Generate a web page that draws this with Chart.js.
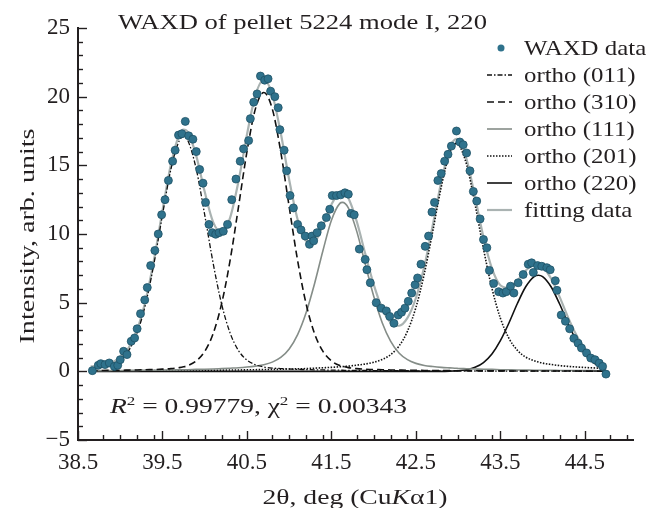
<!DOCTYPE html>
<html>
<head>
<meta charset="utf-8">
<script src="https://cdn.jsdelivr.net/npm/chart.js@4.4.1/dist/chart.umd.min.js"></script>
<style>
    html, body { margin: 0; padding: 0; background: #fff; }
    #wrap { width: 666px; height: 508px; }
</style>
</head>
<body>
<div id="wrap"><canvas id="chart" width="666" height="508"></canvas></div>
<script>
// Measured WAXD points (2theta, intensity)
const xData = [38.67,38.74,38.77,38.82,38.87,38.93,38.97,39.00,39.04,39.08,39.13,39.17,39.20,39.24,39.29,39.32,39.36,39.41,39.45,39.49,
    39.53,39.57,39.62,39.65,39.69,39.73,39.77,39.81,39.86,39.90,39.94,39.98,40.01,40.05,40.09,40.13,40.17,40.22,40.27,40.32,
    40.37,40.42,40.46,40.52,40.54,40.58,40.62,40.66,40.71,40.75,40.78,40.83,40.87,40.89,40.94,40.97,41.01,41.05,41.10,41.14,
    41.19,41.24,41.27,41.29,41.33,41.38,41.44,41.48,41.51,41.56,41.61,41.66,41.70,41.73,41.77,41.83,41.90,41.92,41.96,42.03,
    42.09,42.15,42.19,42.24,42.29,42.33,42.37,42.41,42.45,42.49,42.52,42.56,42.61,42.65,42.69,42.72,42.76,42.80,42.84,42.88,
    42.92,42.98,43.02,43.06,43.10,43.14,43.18,43.22,43.26,43.30,43.34,43.37,43.42,43.48,43.53,43.57,43.62,43.66,43.71,43.77,
    43.83,43.87,43.89,43.94,43.99,44.05,44.09,44.15,44.17,44.22,44.27,44.32,44.37,44.42,44.46,44.52,44.57,44.62,44.67,44.71,44.75];
const yData = [0.05,0.44,0.56,0.49,0.61,0.36,0.44,0.85,1.46,1.22,2.19,2.43,3.10,4.20,5.20,6.10,7.70,8.80,10.0,11.4,
    12.5,13.9,15.3,16.1,17.2,17.3,18.2,17.15,16.9,16.0,14.7,13.7,12.3,10.7,10.1,9.98,10.1,10.2,10.7,12.5,
    14.0,15.3,16.2,16.8,18.4,19.6,20.2,21.5,21.2,21.3,20.4,20.0,19.2,17.6,16.1,14.6,12.8,11.9,10.7,10.3,
    9.85,9.25,9.85,9.5,10.1,10.6,11.2,11.8,12.8,12.8,12.85,13.0,12.9,11.5,11.4,8.9,8.15,7.4,6.45,5.0,
    4.6,4.4,4.0,3.5,4.1,4.3,4.6,5.1,5.7,6.3,6.8,7.8,9.1,9.85,11.6,12.3,13.9,14.4,15.3,15.8,
    16.4,17.5,16.7,16.5,15.9,14.6,13.1,12.4,11.1,9.6,9.0,7.35,6.4,5.8,5.7,5.8,6.2,5.7,6.45,7.05,
    7.8,7.9,7.2,7.7,7.65,7.55,7.4,6.6,5.9,4.1,3.65,3.1,2.4,2.05,1.7,1.34,0.97,0.85,0.6,0.36,-0.2];

// Fitted peak components, sampled on one grid
const xFit = [38.65,38.7,38.8,38.9,39.0,39.1,39.2,39.3,39.4,39.5,39.6,39.7,39.75,39.8,39.9,40.0,40.1,40.2,40.3,40.4,
    40.5,40.6,40.7,40.8,40.9,41.0,41.1,41.2,41.3,41.4,41.5,41.6,41.63,41.7,41.8,41.9,42.0,42.1,42.2,42.3,
    42.4,42.5,42.6,42.7,42.8,42.9,42.98,43.0,43.1,43.2,43.3,43.4,43.5,43.6,43.7,43.8,43.9,43.95,44.0,44.1,
    44.2,44.3,44.4,44.5,44.6,44.7,44.75];
const y011 = [0.22,0.24,0.32,0.48,0.82,1.51,2.80,4.90,7.87,11.39,14.72,16.81,17.10,16.81,14.72,11.39,7.87,4.90,2.80,1.51,
    0.82,0.48,0.32,0.24,0.20,0.17,0.14,0.13,0.11,0.10,0.09,0.08,0.078,0.07,0.065,0.062,0.055,0.052,0.048,0.045,
    0.041,0.037,0.035,0.033,0.03,0.028,0.027,0.027,0.025,0.024,0.022,0.021,0.019,0.018,0.017,0.016,0.015,0.015,0.015,0.014,
    0.013,0.013,0.012,0.012,0.011,0.011,0.011];
const y310 = [0.056,0.059,0.065,0.072,0.08,0.09,0.10,0.12,0.13,0.16,0.20,0.27,0.33,0.42,0.76,1.45,2.75,4.92,8.06,11.98,
    15.99,19.11,20.30,19.11,15.99,11.98,8.06,4.92,2.75,1.45,0.76,0.42,0.38,0.27,0.20,0.16,0.13,0.12,0.10,0.09,
    0.08,0.072,0.065,0.059,0.054,0.049,0.046,0.045,0.042,0.038,0.036,0.033,0.031,0.029,0.027,0.026,0.025,0.024,0.023,0.022,
    0.021,0.02,0.019,0.018,0.017,0.016,0.015];
const y111 = [0.048,0.05,0.053,0.057,0.06,0.065,0.07,0.077,0.084,0.092,0.10,0.11,0.115,0.12,0.14,0.15,0.17,0.20,0.23,0.26,
    0.31,0.38,0.48,0.67,1.01,1.63,2.67,4.26,6.38,8.80,11.00,12.23,12.30,11.90,10.19,7.82,5.48,3.56,2.20,1.34,
    0.85,0.58,0.43,0.35,0.29,0.25,0.22,0.21,0.19,0.17,0.15,0.14,0.12,0.11,0.10,0.09,0.08,0.078,0.075,0.07,
    0.065,0.06,0.055,0.051,0.048,0.045,0.043];
const y201 = [0.035,0.036,0.038,0.04,0.042,0.044,0.047,0.05,0.053,0.055,0.058,0.062,0.064,0.066,0.07,0.075,0.08,0.087,0.094,0.10,
    0.11,0.12,0.13,0.14,0.15,0.17,0.18,0.20,0.23,0.26,0.29,0.33,0.34,0.38,0.45,0.53,0.66,0.86,1.21,1.84,
    2.92,4.65,7.12,10.21,13.42,15.89,16.60,16.55,15.06,12.17,8.92,6.05,3.87,2.42,1.54,1.04,0.77,0.68,0.60,0.50,
    0.42,0.36,0.32,0.28,0.25,0.22,0.21];
const y220 = [0,0,0,0,0,0,0,0,0,0,0,0,0,0,0,0,0,0,0,0,
    0,0,0,0,0,0,0,0,0,0,0,0,0,0,0,0,0,0,0,0,
    0,0,0,0,0,0.013,0.035,0.04,0.12,0.29,0.64,1.26,2.23,3.50,4.92,6.16,6.90,7.00,6.90,6.16,
    4.92,3.50,2.23,1.26,0.64,0.29,0.19];
const yFit = [0.36,0.39,0.48,0.65,1.00,1.71,3.02,5.15,8.14,11.70,15.08,17.25,17.61,17.42,15.69,13.07,10.87,10.11,11.18,13.85,
    17.23,20.09,21.23,20.16,17.35,13.95,11.05,9.51,9.47,10.61,12.14,13.06,13.10,12.62,10.91,8.57,6.33,4.59,3.56,3.32,
    3.89,5.34,7.65,10.65,13.79,16.23,16.93,16.87,15.44,12.69,9.77,7.50,6.27,6.08,6.60,7.33,7.79,7.80,7.61,6.77,
    5.44,3.95,2.64,1.62,0.97,0.58,0.47];

const seriesNames = ['WAXD data', 'ortho (011)', 'ortho (310)', 'ortho (111)', 'ortho (201)', 'ortho (220)', 'fitting data'];
const xTickVals = [38.5, 39.5, 40.5, 41.5, 42.5, 43.5, 44.5];
const yTickVals = [-5, 0, 5, 10, 15, 20, 25];
const xMinorVals = [38.8,39.0,39.2,39.4,39.8,40.0,40.2,40.4,40.8,41.0,41.2,41.4,41.8,42.0,42.2,42.4,42.8,43.0,43.2,43.4,43.8,44.0,44.2,44.4,44.8,45.0];

const SERIF = '"Liberation Serif", "Times New Roman", serif';
const INK = '#231f20';

const pts = (xs, ys) => xs.map((x, i) => ({ x, y: ys[i] }));

const curve = (label, ys, color, width, dash) => ({
    label,
    data: pts(xFit, ys),
    showLine: true,
    borderColor: color,
    borderWidth: width,
    borderDash: dash,
    pointRadius: 0,
    cubicInterpolationMode: 'monotone',
    fill: false
});

// draws a run of text pieces (italic / superscript), stretched horizontally
function drawRun(ctx, parts, x, y, size, opt) {
    const fontOf = p => `${p.italic ? 'italic ' : ''}${p.sup ? Math.round(size * 0.62) : size}px ${SERIF}`;
    let natural = 0;
    parts.forEach(p => { ctx.font = fontOf(p); natural += ctx.measureText(p.t).width; });
    const sx = opt.width ? opt.width / natural : (opt.sx || 1);
    let cx = opt.align === 'center' ? x - natural * sx / 2 : x;
    parts.forEach(p => {
        ctx.font = fontOf(p);
        const w = ctx.measureText(p.t).width;
        ctx.save();
        ctx.translate(cx, y - (p.sup ? size * 0.4 : 0));
        ctx.scale(sx, 1);
        ctx.fillText(p.t, 0, 0);
        ctx.restore();
        cx += w * sx;
    });
}

const decorations = {
    id: 'decorations',
    afterDraw(chart) {
        const { ctx, chartArea } = chart;
        const xs = chart.scales.x, ys = chart.scales.y;
        ctx.save();

        // inward tick marks
        ctx.strokeStyle = INK;
        ctx.lineWidth = 1.4;
        const vTick = (v, len) => {
            const px = Math.round(xs.getPixelForValue(v)) + 0.5;
            ctx.beginPath(); ctx.moveTo(px, chartArea.bottom); ctx.lineTo(px, chartArea.bottom - len); ctx.stroke();
        };
        const hTick = (v, len) => {
            const py = Math.round(ys.getPixelForValue(v)) + 0.5;
            ctx.beginPath(); ctx.moveTo(chartArea.left, py); ctx.lineTo(chartArea.left + len, py); ctx.stroke();
        };
        xTickVals.forEach(v => vTick(v, 9));
        xMinorVals.forEach(v => vTick(v, 5));
        for (let v = -5; v <= 25; v++) hTick(v, v % 5 === 0 ? 9 : 5);

        ctx.fillStyle = INK;
        ctx.textBaseline = 'alphabetic';
        ctx.textAlign = 'left';

        // title inside the plot
        drawRun(ctx, [{ t: 'WAXD of pellet 5224 mode I, 220' }], 118, 29, 22, { width: 369 });

        // fit statistics
        drawRun(ctx, [
            { t: 'R', italic: true }, { t: '2', sup: true }, { t: ' = 0.99779, ' },
            { t: 'χ' }, { t: '2', sup: true }, { t: ' = 0.00343' }
        ], 110, 413, 21, { width: 297 });

        // x axis title
        drawRun(ctx, [{ t: '2θ, deg (Cu' }, { t: 'K', italic: true }, { t: 'α1)' }], 355, 504, 22, { width: 185, align: 'center' });

        // y axis title
        ctx.save();
        ctx.translate(34, 236);
        ctx.rotate(-Math.PI / 2);
        drawRun(ctx, [{ t: 'Intensity, arb. units' }], 0, 0, 22, { width: 215, align: 'center' });
        ctx.restore();

        // legend
        chart.data.datasets.forEach((ds, i) => {
            const base = 55 + i * 27;
            const cy = base - 7;
            if (i === 0) {
                ctx.beginPath();
                ctx.arc(501, cy, 3.5, 0, Math.PI * 2);
                ctx.fillStyle = ds.backgroundColor;
                ctx.fill();
            } else {
                ctx.beginPath();
                ctx.setLineDash(ds.borderDash || []);
                ctx.strokeStyle = ds.borderColor;
                ctx.lineWidth = ds.borderWidth;
                ctx.moveTo(487, cy); ctx.lineTo(512, cy);
                ctx.stroke();
                ctx.setLineDash([]);
            }
            ctx.fillStyle = INK;
            drawRun(ctx, [{ t: seriesNames[i] }], 524, base, 22, { sx: 1.13 });
        });
        ctx.restore();
    }
};

new Chart(document.getElementById('chart'), {
    type: 'scatter',
    data: {
        datasets: [
            {
                label: seriesNames[0],
                data: pts(xData, yData),
                pointRadius: 4,
                backgroundColor: '#2f728c',
                borderColor: '#1e5266',
                borderWidth: 0.8
            },
            curve(seriesNames[1], y011, '#111111', 1.3, [5, 2, 1.5, 2]),
            curve(seriesNames[2], y310, '#111111', 1.6, [7, 4]),
            curve(seriesNames[3], y111, '#858d88', 1.6, []),
            curve(seriesNames[4], y201, '#111111', 1.6, [1.5, 1.5]),
            curve(seriesNames[5], y220, '#111111', 1.6, []),
            curve(seriesNames[6], yFit, '#aab3b2', 2.2, [])
        ]
    },
    options: {
        responsive: false,
        animation: false,
        layout: { padding: { top: 28, right: 33, bottom: 0, left: 0 } },
        plugins: { legend: { display: false }, tooltip: { enabled: false } },
        scales: {
            x: {
                type: 'linear',
                min: 38.5,
                max: 45.07,
                afterBuildTicks: s => { s.ticks = xTickVals.map(v => ({ value: v })); },
                afterFit: s => { s.height = 68; },
                grid: { display: false, drawTicks: false },
                border: { display: true, color: INK, width: 2 },
                ticks: {
                    font: { family: SERIF, size: 23 },
                    color: INK,
                    padding: 9,
                    maxRotation: 0,
                    autoSkip: false,
                    callback: v => Number(v).toFixed(1)
                }
            },
            y: {
                type: 'linear',
                min: -5,
                max: 25,
                afterBuildTicks: s => { s.ticks = yTickVals.map(v => ({ value: v })); },
                afterFit: s => { s.width = 78; },
                grid: { display: false, drawTicks: false },
                border: { display: true, color: INK, width: 2 },
                ticks: {
                    font: { family: SERIF, size: 23 },
                    color: INK,
                    padding: 8,
                    callback: v => (v < 0 ? '−' + Math.abs(v) : String(v))
                }
            }
        }
    },
    plugins: [decorations]
});
</script>
</body>
</html>
